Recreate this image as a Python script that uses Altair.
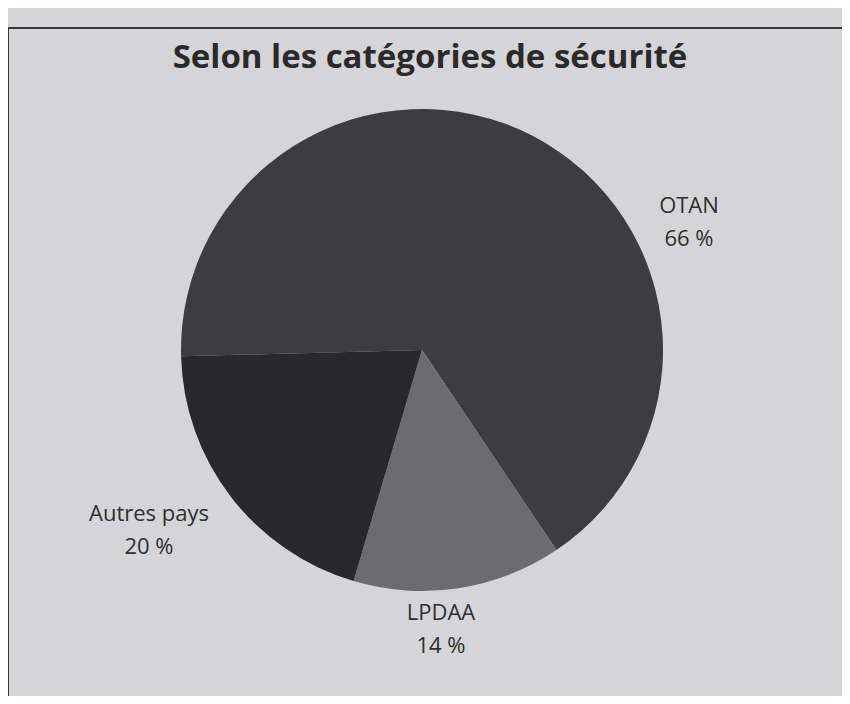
import altair as alt
import pandas as pd
import math

categories = ["OTAN", "LPDAA", "Autres pays"]
values = [66, 14, 20]
pct_labels = ["66 %", "14 %", "20 %"]
colors = ["#3d3d3f", "#6c6c6e", "#29292b"]
order = [1, 2, 3]

df = pd.DataFrame({"cat": categories, "val": values, "pct": pct_labels, "ord": order})

W, H = 834, 688
BG = "#d5d5d7"
TXT = "#2f2f2f"
start = math.radians(268.5)
end = start + 2 * math.pi

base = alt.Chart(df)

pie = base.mark_arc(radius=241, stroke=None).encode(
    theta=alt.Theta("val:Q", stack=True, scale=alt.Scale(range=[start, end])),
    order=alt.Order("ord:Q"),
    color=alt.Color("cat:N", scale=alt.Scale(domain=categories, range=colors), legend=None),
    x=alt.value(414),
    y=alt.value(342),
)

label_pos = {"OTAN": (681, 205), "LPDAA": (433, 612), "Autres pays": (141, 513)}
layers = [pie]
for c in categories:
    px, py = label_pos[c]
    sub = base.transform_filter(alt.datum.cat == c)
    layers.append(sub.mark_text(font="Open Sans", fontSize=22, color=TXT, baseline="alphabetic", align="center").encode(
        text="cat:N", x=alt.value(px), y=alt.value(py)))
    layers.append(sub.mark_text(font="Open Sans", fontSize=22, color=TXT, baseline="alphabetic", align="center").encode(
        text="pct:N", x=alt.value(px), y=alt.value(py + 33)))

title = alt.Chart(pd.DataFrame({"t": ["Selon les catégories de sécurité"]})).mark_text(
    font="Open Sans", fontSize=33, fontWeight="bold", color="#2a2a2a", baseline="alphabetic", align="center"
).encode(text="t:N", x=alt.value(422), y=alt.value(60))

frame_top = alt.Chart(pd.DataFrame({"a": [0]})).mark_rule(color="#3a3a3a", strokeWidth=2).encode(
    x=alt.value(-1), x2=alt.value(W + 2), y=alt.value(20))
frame_left = alt.Chart(pd.DataFrame({"a": [0]})).mark_rule(color="#3a3a3a", strokeWidth=2).encode(
    x=alt.value(0), y=alt.value(20), y2=alt.value(H + 2))

chart = alt.layer(frame_top, frame_left, *layers, title).properties(
    width=W, height=H, background=BG, padding=0, autosize=alt.AutoSizeParams(type="none")
).configure_view(stroke=None)

chart.save("out.html", embed_options={"renderer": "svg", "actions": False})
